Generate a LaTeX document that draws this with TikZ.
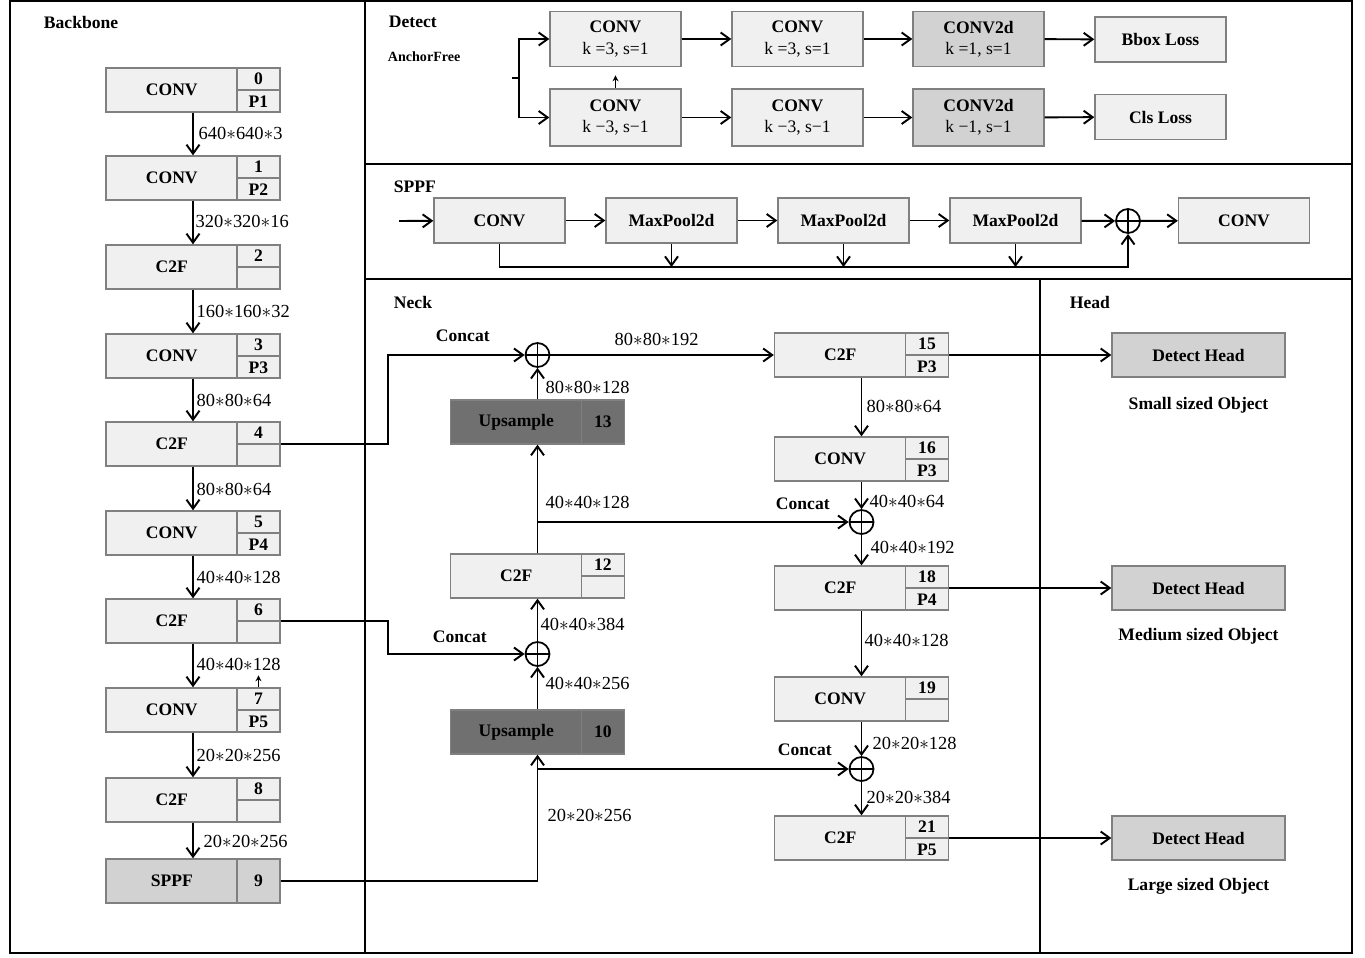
\documentclass[tikz,border=0pt]{standalone}
\usepackage{fontspec}
\setmainfont{Liberation Serif}
\usetikzlibrary{positioning,arrows.meta}

\definecolor{boxfill}{HTML}{F0F0F0}
\definecolor{boxedge}{HTML}{808080}
\definecolor{midfill}{HTML}{D2D2D2}
\definecolor{darkfill}{HTML}{707070}

\tikzset{
  layer/.style={draw=boxedge, fill=boxfill, line width=0.8pt, minimum width=3.48cm, minimum height=0.88cm, inner sep=0pt},
  ltext/.style={anchor=west, minimum width=2.62cm, inner sep=0pt, font=\bfseries},
  cell/.style={draw=boxedge, line width=0.8pt, anchor=north east, minimum width=0.86cm, minimum height=0.44cm, inner sep=0pt, font=\bfseries},
  tallcell/.style={cell, anchor=east, minimum height=0.88cm},
  stage/.style={draw=boxedge, fill=boxfill, line width=0.8pt, minimum width=2.62cm, minimum height=0.9cm, inner sep=0pt, align=center, font=\bfseries},
  concat/.style={circle, draw, line width=1pt, minimum size=0.48cm, inner sep=0pt,
    path picture={\draw[line width=0.8pt] (path picture bounding box.north) -- (path picture bounding box.south)
      (path picture bounding box.west) -- (path picture bounding box.east);}},
  dimlabel/.style={anchor=west, inner sep=1pt},
  sectitle/.style={anchor=west, inner sep=0pt, font=\bfseries},
}

\begin{document}
\begin{tikzpicture}[x=0.02cm, y=-0.02cm, >={Straight Barb[length=1.8mm,width=2.6mm]}, line width=1.1pt, font=\fontsize{10.5}{13}\selectfont]
  \useasboundingbox (0,0) rectangle (1365,957);

  % frames
  \draw[line width=1.4pt] (10,1) rectangle (1352,953);
  \draw[line width=1.4pt] (365,1) -- (365,953) (365,164) -- (1352,164) (365,279) -- (1352,279) (1040,279) -- (1040,953);

  \node[sectitle] (tback) at (43,22) {Backbone};
  \node[sectitle] (tdet) at (388,22) {Detect};
  \node[sectitle, font=\fontsize{8}{10}\selectfont\bfseries] (tanchor) at (387,57) {AnchorFree};
  \node[sectitle] (tsppf) at (393,187) {SPPF};
  \node[sectitle] (tneck) at (393,302) {Neck};
  \node[sectitle] (thead) at (1069,302) {Head};

  % backbone
  \node[layer] (l0) at (193,90) {};
  \node[ltext] (l0t) at (l0.west) {CONV};
  \node[cell] (l0a) at (l0.north east) {0};
  \node[cell] (l0b) at (l0.east) {P1};

  \node[layer] (l1) at (193,178) {};
  \node[ltext] (l1t) at (l1.west) {CONV};
  \node[cell] (l1a) at (l1.north east) {1};
  \node[cell] (l1b) at (l1.east) {P2};

  \node[layer] (l2) at (193,267) {};
  \node[ltext] (l2t) at (l2.west) {C2F};
  \node[cell] (l2a) at (l2.north east) {2};
  \node[cell] (l2b) at (l2.east) {};

  \node[layer] (l3) at (193,356) {};
  \node[ltext] (l3t) at (l3.west) {CONV};
  \node[cell] (l3a) at (l3.north east) {3};
  \node[cell] (l3b) at (l3.east) {P3};

  \node[layer] (l4) at (193,444) {};
  \node[ltext] (l4t) at (l4.west) {C2F};
  \node[cell] (l4a) at (l4.north east) {4};
  \node[cell] (l4b) at (l4.east) {};

  \node[layer] (l5) at (193,533) {};
  \node[ltext] (l5t) at (l5.west) {CONV};
  \node[cell] (l5a) at (l5.north east) {5};
  \node[cell] (l5b) at (l5.east) {P4};

  \node[layer] (l6) at (193,621) {};
  \node[ltext] (l6t) at (l6.west) {C2F};
  \node[cell] (l6a) at (l6.north east) {6};
  \node[cell] (l6b) at (l6.east) {};

  \node[layer] (l7) at (193,710) {};
  \node[ltext] (l7t) at (l7.west) {CONV};
  \node[cell] (l7a) at (l7.north east) {7};
  \node[cell] (l7b) at (l7.east) {P5};

  \node[layer] (l8) at (193,800) {};
  \node[ltext] (l8t) at (l8.west) {C2F};
  \node[cell] (l8a) at (l8.north east) {8};
  \node[cell] (l8b) at (l8.east) {};

  \node[layer, fill=midfill] (l9) at (193,881) {};
  \node[ltext] (l9t) at (l9.west) {SPPF};
  \node[tallcell] (l9a) at (l9.east) {9};

  \draw[->] (l0) -- (l1);
  \draw[->] (l1) -- (l2);
  \draw[->] (l2) -- (l3);
  \draw[->] (l3) -- (l4);
  \draw[->] (l4) -- (l5);
  \draw[->] (l5) -- (l6);
  \draw[->] (l6) -- (l7);
  \draw[->] (l7) -- (l8);
  \draw[->] (l8) -- (l9);
  \draw[-{Stealth[length=1.2mm,width=1.2mm]}, line width=0.8pt] (l7a.north) -- ++(0,-12);

  \node[dimlabel] (lab0) at (196,133) {640$*$640$*$3};
  \node[dimlabel] (lab1) at (193,221) {320$*$320$*$16};
  \node[dimlabel] (lab2) at (194,311) {160$*$160$*$32};
  \node[dimlabel] (lab3) at (194,400) {80$*$80$*$64};
  \node[dimlabel] (lab4) at (194,489) {80$*$80$*$64};
  \node[dimlabel] (lab5) at (194,577) {40$*$40$*$128};
  \node[dimlabel] (lab6) at (194,664) {40$*$40$*$128};
  \node[dimlabel] (lab7) at (194,755) {20$*$20$*$256};
  \node[dimlabel] (lab8) at (201,841) {20$*$20$*$256};

  % detect
  \node[stage, minimum height=1.1cm] (det1) at (615.5,39) {CONV\\\textnormal{k =3, s=1}};
  \node[stage, minimum height=1.1cm] (det2) at (797.5,39) {CONV\\\textnormal{k =3, s=1}};
  \node[stage, minimum height=1.1cm, fill=midfill] (det3) at (978.5,39) {CONV2d\\\textnormal{k =1, s=1}};
  \node[stage] (det4) at (1160.5,39.5) {Bbox Loss};
  \node[stage, minimum height=1.14cm] (det5) at (615.5,117.5) {CONV\\\textnormal{k −3, s−1}};
  \node[stage, minimum height=1.14cm] (det6) at (797.5,117.5) {CONV\\\textnormal{k −3, s−1}};
  \node[stage, minimum height=1.14cm, fill=midfill] (det7) at (978.5,117.5) {CONV2d\\\textnormal{k −1, s−1}};
  \node[stage] (det8) at (1160.5,117) {Cls Loss};

  \coordinate (din) at (512,78);
  \coordinate (dfork) at (519,78);
  \draw (din) -- (dfork);
  \draw[->] (dfork) |- (det1.west);
  \draw[->] (dfork) |- (det5.west);
  \draw[->] (det1) -- (det2);
  \draw[->] (det2) -- (det3);
  \draw[->] (det3) -- (det4);
  \draw[->] (det5) -- (det6);
  \draw[->] (det6) -- (det7);
  \draw[->] (det7) -- (det8);
  \draw[-{Stealth[length=1.2mm,width=1.2mm]}, line width=0.8pt] (det5.north) -- ++(0,-13);

  % sppf
  \node[stage] (s1) at (499.5,220.5) {CONV};
  \node[stage] (s2) at (671.5,220.5) {MaxPool2d};
  \node[stage] (s3) at (843.5,220.5) {MaxPool2d};
  \node[stage] (s4) at (1015.5,220.5) {MaxPool2d};
  \node[concat] (sp) at (1128,221) {};
  \node[stage] (s5) at (1244,220.5) {CONV};

  \coordinate (sin) at (399,221);
  \coordinate (bus) at (1128,267);
  \draw[->] (sin) -- (s1);
  \draw[->] (s1) -- (s2);
  \draw[->] (s2) -- (s3);
  \draw[->] (s3) -- (s4);
  \draw[->] (s4) -- (sp);
  \draw[->] (sp) -- (s5);
  \draw[->] (s1.south) |- (bus) -- (sp.south);
  \draw[->] (s2.south) -- (s2.south |- bus);
  \draw[->] (s3.south) -- (s3.south |- bus);
  \draw[->] (s4.south) -- (s4.south |- bus);

  % neck, left column
  \node[layer, fill=darkfill] (n13) at (537.5,422) {};
  \node[ltext] (n13t) at (n13.west) {Upsample};
  \node[tallcell] (n13a) at (n13.east) {13};

  \node[layer] (n12) at (537.5,576) {};
  \node[ltext] (n12t) at (n12.west) {C2F};
  \node[cell] (n12a) at (n12.north east) {12};
  \node[cell] (n12b) at (n12.east) {};

  \node[layer, fill=darkfill] (n10) at (537.5,732) {};
  \node[ltext] (n10t) at (n10.west) {Upsample};
  \node[tallcell] (n10a) at (n10.east) {10};

  \node[concat] (cc1) at (537.5,355) {};
  \node[concat] (cc3) at (537.5,654) {};

  % neck, right column
  \node[layer] (n15) at (861.5,355) {};
  \node[ltext] (n15t) at (n15.west) {C2F};
  \node[cell] (n15a) at (n15.north east) {15};
  \node[cell] (n15b) at (n15.east) {P3};

  \node[layer] (n16) at (861.5,459) {};
  \node[ltext] (n16t) at (n16.west) {CONV};
  \node[cell] (n16a) at (n16.north east) {16};
  \node[cell] (n16b) at (n16.east) {P3};

  \node[layer] (n18) at (861.5,588) {};
  \node[ltext] (n18t) at (n18.west) {C2F};
  \node[cell] (n18a) at (n18.north east) {18};
  \node[cell] (n18b) at (n18.east) {P4};

  \node[layer] (n19) at (861.5,699) {};
  \node[ltext] (n19t) at (n19.west) {CONV};
  \node[cell] (n19a) at (n19.north east) {19};
  \node[cell] (n19b) at (n19.east) {};

  \node[layer] (n21) at (861.5,838) {};
  \node[ltext] (n21t) at (n21.west) {C2F};
  \node[cell] (n21a) at (n21.north east) {21};
  \node[cell] (n21b) at (n21.east) {P5};

  \node[concat] (cc2) at (861.5,522) {};
  \node[concat] (cc4) at (861.5,769) {};

  \draw[->] (l4.east) -- ++(107,0) |- (cc1.west);
  \draw[->] (l6.east) -- ++(107,0) |- (cc3.west);
  \draw[->] (l9.east) -| (n10.south);
  \draw[->] (n10.south |- cc4.west) -- (cc4.west);
  \draw[->] (n10) -- (cc3);
  \draw[->] (cc3) -- (n12);
  \draw[->] (n12) -- (n13);
  \draw[->] (n12.north |- cc2.west) -- (cc2.west);
  \draw[->] (n13) -- (cc1);
  \draw[->] (cc1) -- (n15);
  \draw[->] (n15) -- (n16);
  \draw[->] (n16) -- (cc2);
  \draw[->] (cc2) -- (n18);
  \draw[->] (n18) -- (n19);
  \draw[->] (n19) -- (cc4);
  \draw[->] (cc4) -- (n21);

  \node[sectitle] (cat1) at (435,336) {Concat};
  \node[sectitle] (cat3) at (432,637) {Concat};
  \node[sectitle] (cat2) at (775,504) {Concat};
  \node[sectitle] (cat4) at (777,750) {Concat};

  \node[dimlabel] (nlab1) at (543,387) {80$*$80$*$128};
  \node[dimlabel] (nlab2) at (612,339) {80$*$80$*$192};
  \node[dimlabel] (nlab3) at (543,502) {40$*$40$*$128};
  \node[dimlabel] (nlab4) at (538,624) {40$*$40$*$384};
  \node[dimlabel] (nlab5) at (543,683) {40$*$40$*$256};
  \node[dimlabel] (nlab6) at (545,815) {20$*$20$*$256};
  \node[dimlabel] (nlab7) at (864,406) {80$*$80$*$64};
  \node[dimlabel] (nlab8) at (867,501) {40$*$40$*$64};
  \node[dimlabel] (nlab9) at (868,547) {40$*$40$*$192};
  \node[dimlabel] (nlab10) at (862,640) {40$*$40$*$128};
  \node[dimlabel] (nlab11) at (870,743) {20$*$20$*$128};
  \node[dimlabel] (nlab12) at (864,797) {20$*$20$*$384};

  % head
  \node[stage, fill=midfill, minimum width=3.46cm, minimum height=0.88cm] (h1) at (1198.5,355) {Detect Head};
  \node[stage, fill=midfill, minimum width=3.46cm, minimum height=0.88cm] (h2) at (1198.5,588) {Detect Head};
  \node[stage, fill=midfill, minimum width=3.46cm, minimum height=0.88cm] (h3) at (1198.5,838) {Detect Head};
  \node[below=0.25cm of h1, font=\bfseries] (h1cap) {Small sized Object};
  \node[below=0.22cm of h2, font=\bfseries] (h2cap) {Medium sized Object};
  \node[below=0.22cm of h3, font=\bfseries] (h3cap) {Large sized Object};

  \draw[->] (n15.east) -- (h1.west);
  \draw[->] (n18.east) -- (h2.west);
  \draw[->] (n21.east) -- (h3.west);
\end{tikzpicture}
\end{document}
